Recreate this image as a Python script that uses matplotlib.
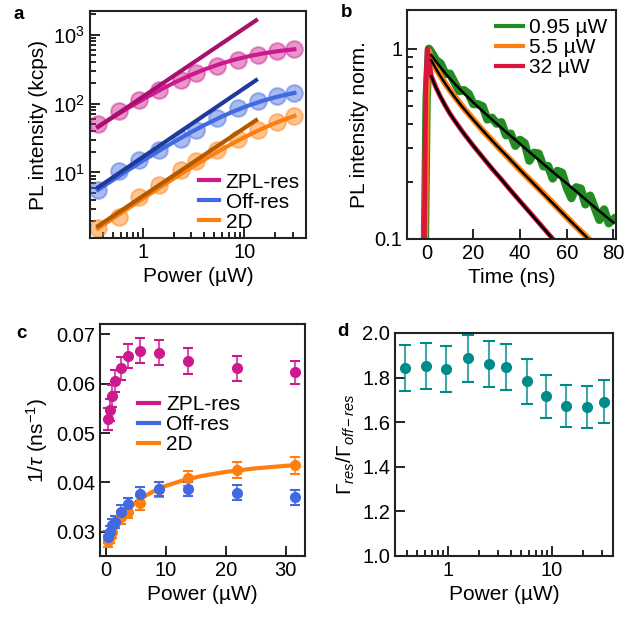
import matplotlib
matplotlib.use("Agg")
import matplotlib.pyplot as plt
from matplotlib.ticker import NullFormatter, LogLocator

plt.rcParams['font.family'] = ['Liberation Sans', 'DejaVu Sans']
plt.rcParams['mathtext.fontset'] = 'custom'
plt.rcParams['mathtext.rm'] = 'Liberation Sans'
plt.rcParams['mathtext.it'] = 'Liberation Sans:italic'
plt.rcParams['mathtext.bf'] = 'Liberation Sans:bold'
plt.rcParams['font.size'] = 14.5
plt.rcParams['axes.linewidth'] = 1.5

# =========================
# data
# =========================
# (a) power dependence of PL intensity
power_a = [0.36, 0.58, 0.91, 1.45, 2.36, 3.3, 5.3, 8.6, 13.5, 21, 31]
zpl_a = [50, 77, 112, 156, 218, 278, 347, 434, 501, 573, 627]
off_a = [5.5, 10.4, 15.1, 21.5, 31, 42, 61, 85, 108, 128, 140]
d2_a = [1.54, 2.27, 4.4, 6.5, 10.8, 14.7, 21, 31, 41, 54, 67]

# saturation fits
fit_p = [0.36, 0.5, 0.7, 1, 1.5, 2, 3, 4, 6, 8, 11, 15, 20, 25, 31]
zpl_fit = [46.3, 62.7, 84.8, 115.3, 160.1, 198.6, 261.6, 310.9, 383.0, 433.3, 485.5, 530.9, 567.5, 591.9, 612.3]
off_fit = [5.6, 7.69, 10.61, 14.81, 21.43, 27.59, 38.71, 48.48, 64.86, 78.05, 93.62, 109.1, 123.1, 133.3, 142.5]
d2_fit = [1.54, 2.13, 2.96, 4.19, 6.19, 8.13, 11.82, 15.29, 21.67, 27.37, 34.88, 43.33, 52.0, 59.09, 66.07]

# linear (slope 1) guides
lin_p = [0.36, 13]
zpl_lin = [45.8, 1611]
off_lin = [6.07, 218]
d2_lin = [1.67, 57.3]

# (b) decay traces
green_t = [-1, 0, 1, 2, 4, 6, 8, 10, 12, 14, 16, 18, 20, 22, 24, 26, 28, 30, 32, 34, 36,
           38, 40, 42, 44, 46, 48, 50, 52, 54, 56, 58, 60, 62, 64, 66, 68, 70, 72, 74, 76, 78, 80]
green_y = [0.05, 0.55, 1.0, 0.963, 0.874, 0.837, 0.737, 0.740, 0.663, 0.599, 0.606, 0.580,
           0.512, 0.511, 0.498, 0.425, 0.434, 0.404, 0.411, 0.351, 0.358, 0.309, 0.332, 0.319,
           0.258, 0.284, 0.281, 0.241, 0.242, 0.208, 0.228, 0.223, 0.186, 0.164, 0.187, 0.184,
           0.152, 0.169, 0.146, 0.126, 0.143, 0.121, 0.127]
orange_t = [-1, 0, 1, 2, 4, 8, 12, 16, 20, 24, 28, 32, 36, 40, 44, 48, 52, 56, 60, 64, 68, 72]
orange_y = [0.05, 0.55, 0.97, 0.88, 0.79, 0.655, 0.56, 0.485, 0.425, 0.372, 0.33, 0.292, 0.26,
            0.231, 0.206, 0.184, 0.164, 0.146, 0.130, 0.116, 0.104, 0.093]
red_t = [-1.2, -0.4, 0.3, 1, 2, 4, 6, 8, 10, 12, 16, 20, 24, 28, 32, 36, 40, 44, 48, 52, 56]
red_y = [0.05, 0.6, 1.0, 0.86, 0.72, 0.626, 0.557, 0.502, 0.456, 0.419, 0.358, 0.309, 0.269,
         0.234, 0.206, 0.180, 0.158, 0.139, 0.122, 0.107, 0.094]

dec_t = [2, 4, 6, 8, 10, 12, 15, 20, 25, 30, 35, 40, 45, 50, 55, 60, 65, 70, 75, 80]
green_fit = [0.926, 0.857, 0.797, 0.744, 0.698, 0.656, 0.600, 0.522, 0.458, 0.404, 0.357, 0.316,
             0.280, 0.248, 0.220, 0.196, 0.174, 0.154, 0.137, 0.122]
orange_fit = [0.870, 0.786, 0.715, 0.655, 0.603, 0.558, 0.500, 0.423, 0.361, 0.310, 0.268, 0.231,
              0.200, 0.173, 0.150, 0.130, 0.113, 0.098, 0.085, 0.074]
red_fit = [0.716, 0.626, 0.557, 0.502, 0.456, 0.419, 0.371, 0.309, 0.260, 0.220, 0.186, 0.158,
           0.134, 0.114, 0.097, 0.082, 0.070, 0.059, 0.050, 0.043]
dec_labels = ['0.95 µW', '5.5 µW', '32 µW']

# (c) decay rates
power_c = [0.39, 0.61, 0.96, 1.55, 2.5, 3.6, 5.7, 8.8, 13.7, 21.9, 31.5]
zpl_c = [0.0528, 0.0547, 0.0575, 0.0605, 0.0631, 0.0656, 0.0667, 0.0663, 0.0646, 0.0631, 0.0623]
zpl_c_err = [0.0022, 0.0022, 0.0022, 0.0022, 0.0023, 0.0024, 0.0025, 0.0026, 0.0026, 0.0025, 0.0024]
off_c = [0.0289, 0.0300, 0.0314, 0.0320, 0.0341, 0.0356, 0.0376, 0.0386, 0.0386, 0.0379, 0.0370]
off_c_err = [0.0012, 0.0012, 0.0012, 0.0012, 0.0013, 0.0013, 0.0014, 0.0014, 0.0014, 0.0015, 0.0015]
d2_c = [0.0282, 0.0290, 0.0300, 0.0320, 0.0329, 0.0341, 0.0358, 0.0386, 0.0408, 0.0426, 0.0435]
d2_c_err = [0.0012, 0.0012, 0.0012, 0.0013, 0.0013, 0.0014, 0.0014, 0.0015, 0.0015, 0.0016, 0.0017]
d2_c_fit_p = [0.3, 0.6, 1, 1.5, 2, 3, 4, 5, 6, 8, 10, 13, 16, 20, 25, 31.5]
d2_c_fit = [0.0280, 0.02888, 0.02989, 0.03101, 0.03199, 0.03362, 0.03492, 0.03599, 0.03688,
            0.03827, 0.03932, 0.04047, 0.04132, 0.04214, 0.04286, 0.04352]

# (d) ratio
ratio_d = [1.842, 1.853, 1.839, 1.887, 1.862, 1.849, 1.783, 1.716, 1.671, 1.666, 1.692]
ratio_d_err = [0.103, 0.103, 0.103, 0.105, 0.103, 0.103, 0.100, 0.097, 0.094, 0.094, 0.096]

# colors
c_zpl, c_zpl_dk = '#CC1A8E', '#A8106F'
c_off, c_off_dk = '#4169E1', '#1E3A9C'
c_2d, c_2d_dk = '#FF7F0E', '#B35A00'
c_green, c_orange, c_red = '#228B22', '#FF7F0E', '#DC143C'
c_teal = '#008B8B'

fig = plt.figure(figsize=(6.25, 6.19), dpi=100)


def style(ax):
    ax.tick_params(which='both', direction='in', top=False, right=False, width=1.2)
    ax.tick_params(which='major', length=7)
    ax.tick_params(which='minor', length=4)
    for s in ax.spines.values():
        s.set_color('#222222')


# =========================
# (a)
# =========================
ax = fig.add_axes([0.144, 0.6155, 0.3456, 0.3667])
for y, c in [(zpl_a, c_zpl), (off_a, c_off), (d2_a, c_2d)]:
    ax.plot(power_a, y, 'o', ms=12, color=c, alpha=0.45, mew=1.5)
ax.plot(fit_p, zpl_fit, color=c_zpl, lw=3, label='ZPL-res')
ax.plot(fit_p, off_fit, color=c_off, lw=3, label='Off-res')
ax.plot(fit_p, d2_fit, color=c_2d, lw=3, label='2D')
ax.plot(lin_p, zpl_lin, color=c_zpl_dk, lw=3)
ax.plot(lin_p, off_lin, color=c_off_dk, lw=3)
ax.plot(lin_p, d2_lin, color=c_2d_dk, lw=3)
ax.set_xscale('log')
ax.set_yscale('log')
ax.set_xlim(0.30, 40.4)
ax.set_ylim(1.12, 2200)
ax.set_xticks([1, 10], ['1', '10'])
ax.set_yticks([10, 100, 1000], [r'$10^1$', r'$10^2$', r'$10^3$'])
ax.set_xlabel('Power (µW)', fontsize=15)
ax.set_ylabel('PL intensity (kcps)', fontsize=15)
ax.legend(loc='lower right', frameon=False, fontsize=15, handlelength=1.0,
          handletextpad=0.3, labelspacing=0.05, borderaxespad=0.2, borderpad=0.1)
style(ax)

# =========================
# (b)
# =========================
ax = fig.add_axes([0.6512, 0.6139, 0.3344, 0.37])
ax.plot(green_t, green_y, color=c_green, lw=6, label=dec_labels[0])
ax.plot(orange_t, orange_y, color=c_orange, lw=4.5, label=dec_labels[1])
ax.plot(red_t, red_y, color=c_red, lw=3.5, label=dec_labels[2])
ax.plot(dec_t, green_fit, color='black', lw=1.8)
ax.plot(dec_t, orange_fit, color='black', lw=1.8)
ax.plot(dec_t, red_fit, color='black', lw=1.8)
ax.set_yscale('log')
ax.set_xlim(-8.4, 81.1)
ax.set_ylim(0.1, 1.6)
ax.set_xticks([0, 20, 40, 60, 80])
ax.set_yticks([0.1, 1], ['0.1', '1'])
ax.yaxis.set_minor_locator(LogLocator(base=10, subs=range(2, 10)))
ax.yaxis.set_minor_formatter(NullFormatter())
ax.set_xlabel('Time (ns)', fontsize=15)
ax.set_ylabel('PL intensity norm.', fontsize=15)
leg = ax.legend(loc='upper right', frameon=False, fontsize=15, handlelength=1.3,
                handletextpad=0.3, labelspacing=0.05, borderaxespad=0.3, borderpad=0.1)
for h in leg.get_lines():
    h.set_linewidth(3)
style(ax)

# =========================
# (c)
# =========================
ax = fig.add_axes([0.16, 0.1018, 0.328, 0.3748])
ek = dict(fmt='o', ms=7, capsize=3.5, elinewidth=1.5, capthick=1.5)
ax.errorbar(power_c, zpl_c, yerr=zpl_c_err, color=c_zpl, ecolor=c_zpl, **ek)
ax.plot(d2_c_fit_p, d2_c_fit, color=c_2d, lw=3)
ax.errorbar(power_c, d2_c, yerr=d2_c_err, color=c_2d, ecolor=c_2d, **ek)
ax.errorbar(power_c, off_c, yerr=off_c_err, color=c_off, ecolor=c_off, **ek)
for l in ax.collections:
    l.set_alpha(0.75)
ax.plot([], [], color=c_zpl, lw=3, label='ZPL-res')
ax.plot([], [], color=c_off, lw=3, label='Off-res')
ax.plot([], [], color=c_2d, lw=3, label='2D')
ax.set_xlim(-1.0, 33.2)
ax.set_ylim(0.0251, 0.0721)
ax.set_xticks([0, 10, 20, 30])
ax.set_yticks([0.03, 0.04, 0.05, 0.06, 0.07])
ax.set_xlabel('Power (µW)', fontsize=15)
ax.set_ylabel(r'1/$\tau$ (ns$^{-1}$)', fontsize=15)
ax.legend(loc='center left', bbox_to_anchor=(0.135, 0.565), frameon=False, fontsize=15,
          handlelength=1.0, handletextpad=0.35, labelspacing=0.05, borderpad=0)
style(ax)

# =========================
# (d)
# =========================
ax = fig.add_axes([0.632, 0.1018, 0.3488, 0.3603])
ax.errorbar(power_c, ratio_d, yerr=ratio_d_err, fmt='o', ms=7, color=c_teal, ecolor=c_teal,
            capsize=4, elinewidth=1.5, capthick=1.5)
for l in ax.collections:
    l.set_alpha(0.75)
ax.set_xscale('log')
ax.set_xlim(0.31, 38.6)
ax.set_ylim(1.0, 2.0)
ax.set_xticks([1, 10], ['1', '10'])
ax.set_yticks([1.0, 1.2, 1.4, 1.6, 1.8, 2.0], ['1.0', '1.2', '1.4', '1.6', '1.8', '2.0'])
ax.set_xlabel('Power (µW)', fontsize=15)
ax.set_ylabel(r'$\Gamma_{res}/\Gamma_{off-res}$', fontsize=15)
style(ax)

# panel letters
for x, y, s in [(0.030, 0.977, 'a'), (0.555, 0.980, 'b'), (0.034, 0.462, 'c'), (0.549, 0.464, 'd')]:
    fig.text(x, y, s, fontsize=13.5, fontweight='bold', ha='center', va='center')

fig.savefig('out.png', dpi=100)
